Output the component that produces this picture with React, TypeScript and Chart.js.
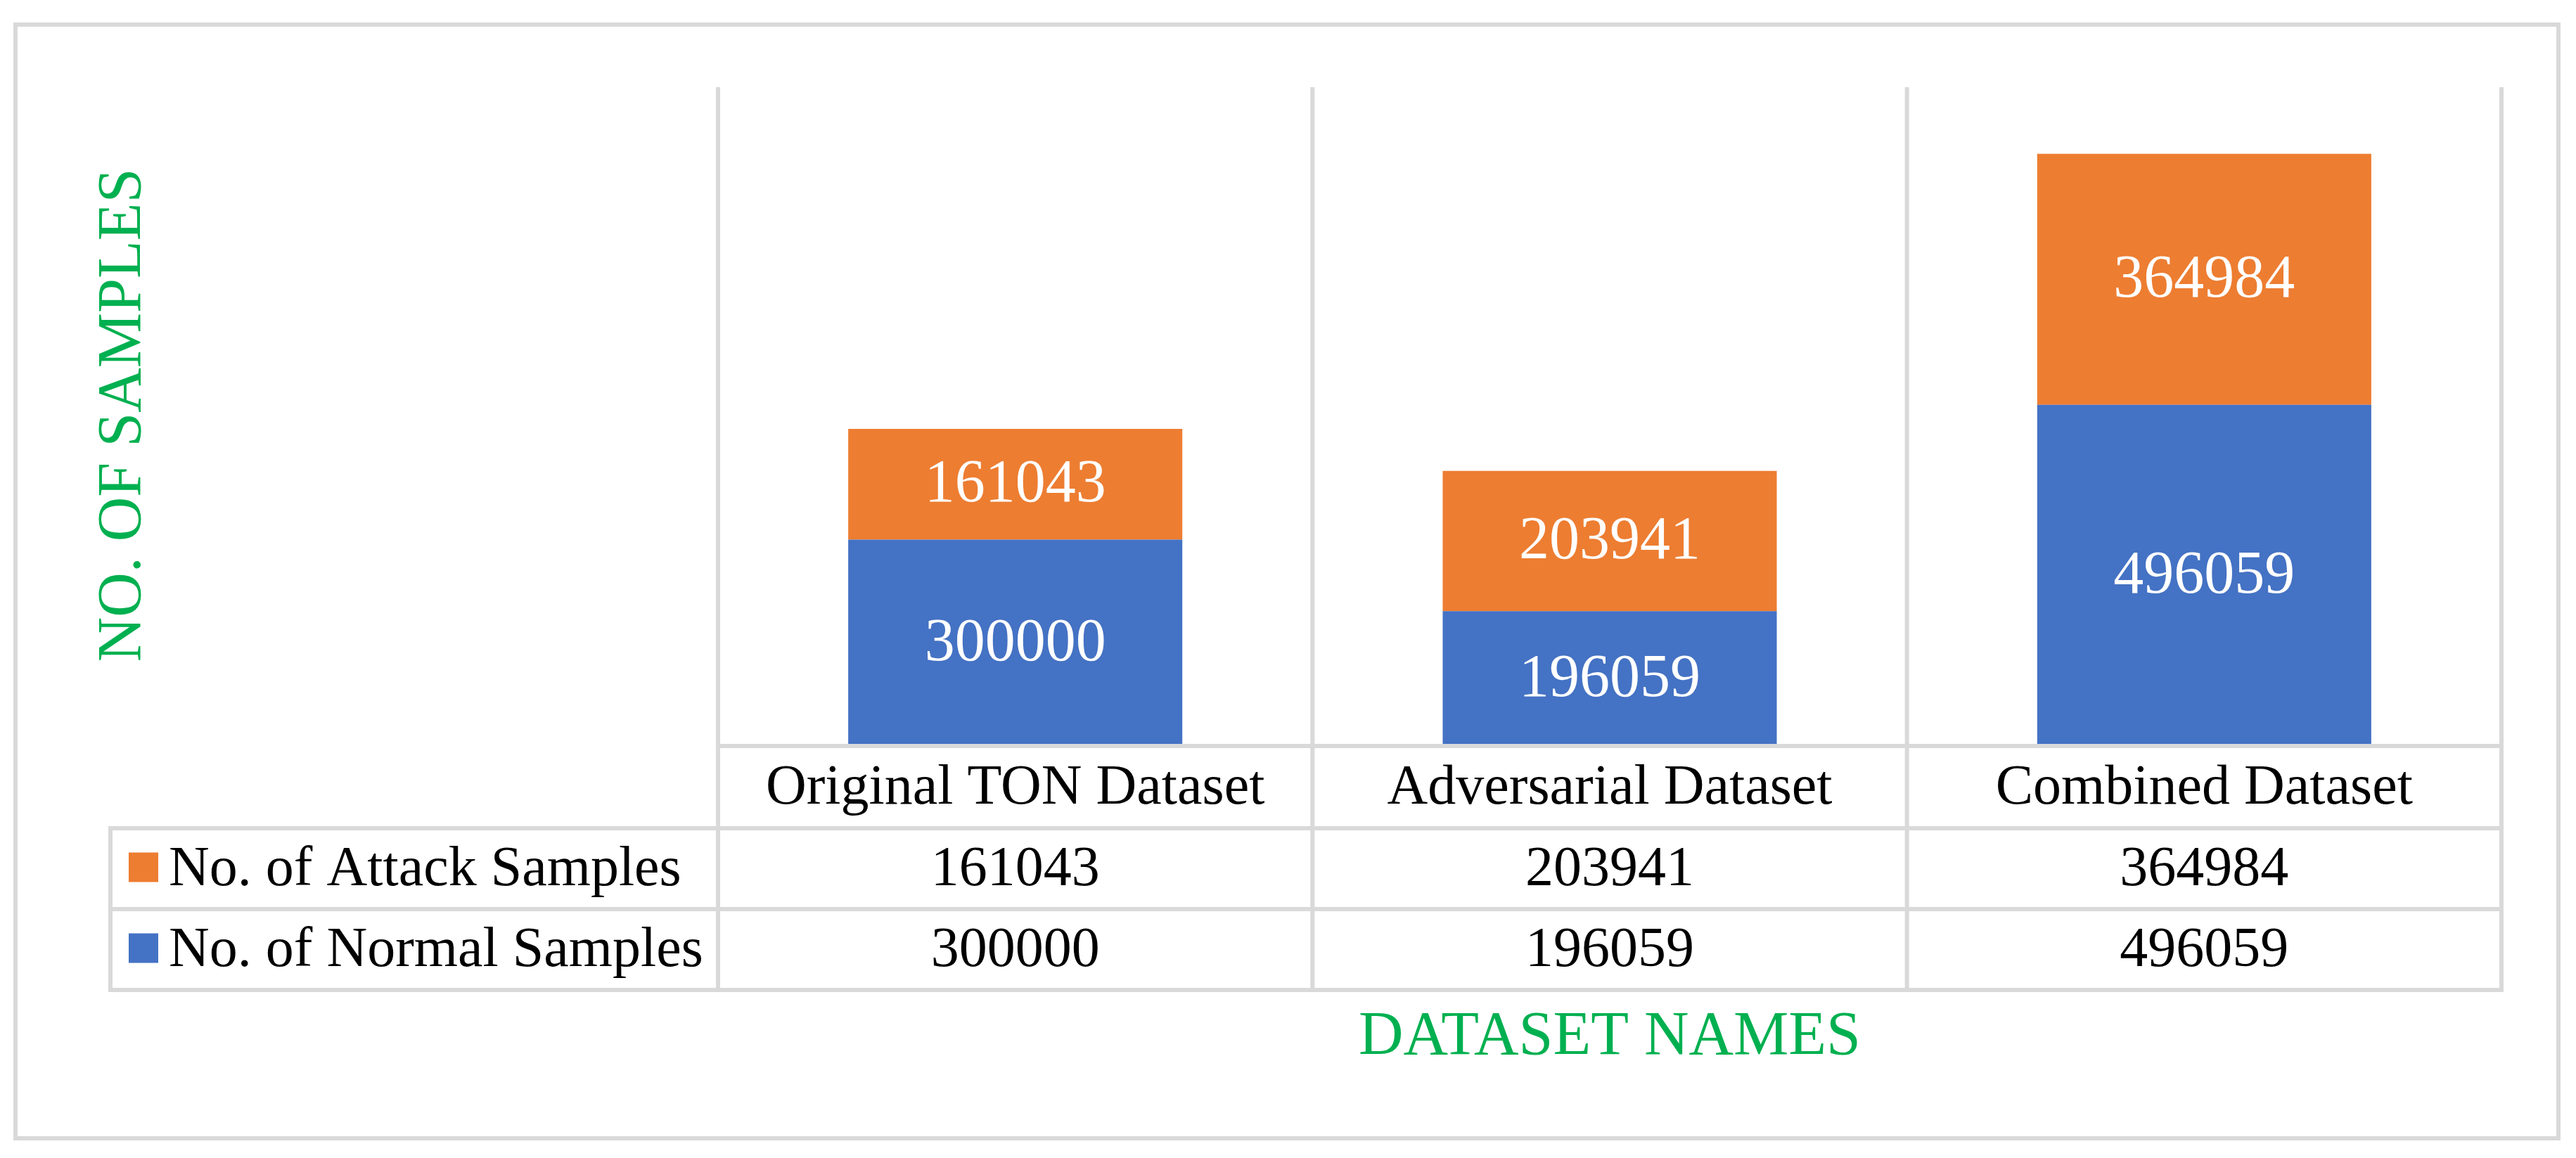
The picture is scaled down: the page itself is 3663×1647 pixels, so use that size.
import React, { useEffect, useRef } from 'react';
import { Chart, registerables } from 'chart.js';

Chart.register(...registerables);

const categories = ['Original TON Dataset', 'Adversarial Dataset', 'Combined Dataset'];
const normalSamples = [300000, 196059, 496059];
const attackSamples = [161043, 203941, 364984];
const attackName = 'No. of Attack Samples';
const normalName = 'No. of Normal Samples';
const xAxisTitle = 'DATASET NAMES';
const yAxisTitle = 'NO. OF SAMPLES';
const yMax = 958000;

const W = 3663;
const H = 1647;
const GRID = '#d9d9d9';
const GREEN = '#00b050';
const BLUE = '#4472c4';
const ORANGE = '#ed7d31';
const FONT = '"Liberation Serif", "Times New Roman", serif';
const LW = 6;

const ROW_OFFSETS = [0, 117, 232, 347];
const LEGEND_LEFT = 157;

const tablePlugin = {
  id: 'excelTable',
  afterDatasetsDraw(chart: any) {
    const { ctx, chartArea, scales } = chart;
    const xs = scales.x;
    const n = categories.length;
    const centers = categories.map((_, i) => xs.getPixelForValue(i));
    const step = n > 1 ? centers[1] - centers[0] : chartArea.right - chartArea.left;
    const bounds = [centers[0] - step / 2, ...centers.map((c) => c + step / 2)];
    const rows = ROW_OFFSETS.map((o) => chartArea.bottom + o);

    ctx.save();
    ctx.strokeStyle = GRID;
    ctx.lineWidth = LW;
    ctx.lineCap = 'butt';

    // vertical lines through plot + table
    bounds.forEach((bx) => {
      ctx.beginPath();
      ctx.moveTo(bx, chartArea.top);
      ctx.lineTo(bx, rows[3] + LW / 2);
      ctx.stroke();
    });
    // legend column left edge
    ctx.beginPath();
    ctx.moveTo(LEGEND_LEFT, rows[1] - LW / 2);
    ctx.lineTo(LEGEND_LEFT, rows[3] + LW / 2);
    ctx.stroke();
    // horizontal lines
    ctx.beginPath();
    ctx.moveTo(bounds[0] - LW / 2, rows[0]);
    ctx.lineTo(bounds[n] + LW / 2, rows[0]);
    ctx.stroke();
    for (let r = 1; r < 4; r++) {
      ctx.beginPath();
      ctx.moveTo(LEGEND_LEFT - LW / 2, rows[r]);
      ctx.lineTo(bounds[n] + LW / 2, rows[r]);
      ctx.stroke();
    }
    // outer chart border
    ctx.strokeRect(22, 35, 3616, 1584);

    // data labels inside bars
    ctx.fillStyle = '#ffffff';
    ctx.font = `86px ${FONT}`;
    ctx.textAlign = 'center';
    ctx.textBaseline = 'middle';
    chart.data.datasets.forEach((ds: any, di: number) => {
      const meta = chart.getDatasetMeta(di);
      meta.data.forEach((el: any, i: number) => {
        const cy = (el.y + el.base) / 2;
        ctx.fillText(String(ds.data[i]), el.x, cy + 2);
      });
    });

    // table text
    ctx.fillStyle = '#000000';
    ctx.font = `80px ${FONT}`;
    ctx.textAlign = 'center';
    ctx.textBaseline = 'middle';
    const mid = (a: number, b: number) => (a + b) / 2;
    categories.forEach((c, i) => {
      ctx.fillText(c, centers[i], mid(rows[0], rows[1]) + 2);
      ctx.fillText(String(attackSamples[i]), centers[i], mid(rows[1], rows[2]) + 2);
      ctx.fillText(String(normalSamples[i]), centers[i], mid(rows[2], rows[3]) + 2);
    });
    // legend cells
    const sq = 42;
    const drawLegend = (color: string, label: string, cy: number) => {
      ctx.fillStyle = color;
      ctx.fillRect(LEGEND_LEFT + 26, cy - sq / 2 - 2, sq, sq);
      ctx.fillStyle = '#000000';
      ctx.textAlign = 'left';
      ctx.fillText(label, LEGEND_LEFT + 83, cy + 2);
    };
    drawLegend(ORANGE, attackName, mid(rows[1], rows[2]));
    drawLegend(BLUE, normalName, mid(rows[2], rows[3]));

    // axis titles
    ctx.fillStyle = GREEN;
    ctx.font = `88px ${FONT}`;
    ctx.textAlign = 'center';
    ctx.textBaseline = 'middle';
    ctx.fillText(xAxisTitle, (chartArea.left + chartArea.right) / 2, 1476);
    ctx.save();
    ctx.translate(176, (chartArea.top + chartArea.bottom) / 2 - 2);
    ctx.rotate(-Math.PI / 2);
    ctx.fillText(yAxisTitle, 0, 0);
    ctx.restore();

    ctx.restore();
  },
};

export default function App() {
  const ref = useRef<HTMLCanvasElement | null>(null);
  useEffect(() => {
    if (!ref.current) return;
    const chart = new Chart(ref.current, {
      type: 'bar',
      data: {
        labels: categories,
        datasets: [
          {
            label: normalName,
            data: normalSamples,
            backgroundColor: BLUE,
            borderWidth: 0,
            categoryPercentage: 1,
            barPercentage: 0.562,
          },
          {
            label: attackName,
            data: attackSamples,
            backgroundColor: ORANGE,
            borderWidth: 0,
            categoryPercentage: 1,
            barPercentage: 0.562,
          },
        ],
      },
      options: {
        responsive: false,
        animation: false,
        devicePixelRatio: 1,
        layout: { padding: { left: 1021, right: W - 3557, top: 124, bottom: H - 1061 } },
        plugins: { legend: { display: false }, tooltip: { enabled: false }, title: { display: false } },
        scales: {
          x: { stacked: true, display: false },
          y: { stacked: true, display: false, min: 0, max: yMax },
        },
      },
      plugins: [tablePlugin],
    });
    return () => chart.destroy();
  }, []);
  return (
    <div style={{ position: 'fixed', left: 0, top: 0, width: W, height: H, background: '#ffffff' }}>
      <canvas ref={ref} width={W} height={H} style={{ display: 'block', width: W, height: H }} />
    </div>
  );
}
